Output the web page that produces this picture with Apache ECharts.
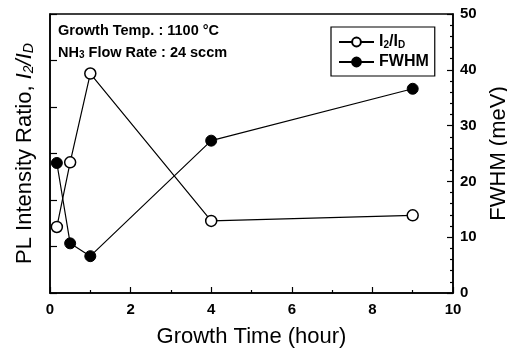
<!DOCTYPE html>
<html>
<head>
<meta charset="utf-8">
<script src="https://cdn.jsdelivr.net/npm/echarts@6/dist/echarts.min.js"></script>
<style>
html,body{margin:0;padding:0;background:#fff;}
#c{width:507px;height:353px;}
</style>
</head>
<body>
<div id="c"></div>
<script>
// Data
var growthTime = [0.17, 0.5, 1, 4, 9];
var ratioI2ID = [1.42, 2.81, 4.72, 1.55, 1.67];
var fwhm = [23.3, 8.9, 6.6, 27.3, 36.6];
var xTicks = [0, 2, 4, 6, 8, 10];
var rightTicks = [0, 10, 20, 30, 40, 50];

var FF = '"Liberation Sans", Arial, Helvetica, sans-serif';
var chart = echarts.init(document.getElementById('c'), null, {renderer: 'canvas'});

function pairs(xs, ys) { return xs.map(function (x, i) { return [x, ys[i]]; }); }

var axisLineStyle = {color: '#000', width: 1.5};

chart.setOption({
  animation: false,
  backgroundColor: '#fff',
  textStyle: {fontFamily: FF},
  grid: {left: 50, right: 54, top: 14, bottom: 60, show: true, borderColor: '#000', borderWidth: 1.5,
    backgroundColor: 'transparent', containLabel: false, outerBoundsMode: 'none'},
  xAxis: [{
    type: 'value', min: xTicks[0], max: xTicks[xTicks.length - 1], interval: 2,
    axisLine: {show: true, lineStyle: axisLineStyle},
    axisTick: {show: true, inside: true, length: 6, lineStyle: {color: '#000', width: 1.2}},
    minorTick: {show: true, splitNumber: 2, length: 3, lineStyle: {color: '#000', width: 1.2}},
    splitLine: {show: false},
    axisLabel: {color: '#000', fontSize: 15, fontWeight: 'bold', fontFamily: FF, margin: 9},
    name: 'Growth Time (hour)', nameLocation: 'middle', nameGap: 33,
    nameTextStyle: {color: '#000', fontSize: 22, fontFamily: FF}
  }],
  yAxis: [{
    type: 'value', min: 0, max: 6, interval: 1, position: 'left',
    axisLine: {show: true, lineStyle: axisLineStyle},
    axisTick: {show: true, inside: true, length: 7, lineStyle: {color: '#000', width: 1.2}},
    splitLine: {show: false},
    axisLabel: {show: false},
    name: 'PL Intensity Ratio, {i|I}{sub|2}{i|/I}{sub|D}', nameLocation: 'middle', nameGap: 14, nameRotate: 90,
    nameTextStyle: {color: '#000', fontSize: 22, fontFamily: FF,
      rich: {
        i: {fontSize: 22, fontStyle: 'italic', fontFamily: FF, color: '#000'},
        sub: {fontSize: 14, fontStyle: 'italic', fontFamily: FF, color: '#000', verticalAlign: 'bottom', padding: [8, 0, 0, 0]}
      }}
  }, {
    type: 'value', min: rightTicks[0], max: rightTicks[rightTicks.length - 1], interval: 10, position: 'right',
    axisLine: {show: true, lineStyle: axisLineStyle},
    axisTick: {show: true, inside: true, length: 6, lineStyle: {color: '#000', width: 1.2}},
    minorTick: {show: true, splitNumber: 5, length: 3, lineStyle: {color: '#000', width: 1.2}},
    splitLine: {show: false},
    axisLabel: {color: '#000', fontSize: 15, fontWeight: 'bold', fontFamily: FF, margin: 7},
    name: 'FWHM (meV)', nameLocation: 'middle', nameGap: 34, nameRotate: 90,
    nameTextStyle: {color: '#000', fontSize: 22, fontFamily: FF}
  }],
  legend: {
    show: true, orient: 'vertical', left: 331, top: 27,
    padding: [7, 6, 6, 7], itemGap: 4, itemWidth: 35, itemHeight: 11,
    borderColor: '#000', borderWidth: 1.2, backgroundColor: '#fff',
    textStyle: {color: '#000', fontSize: 16, fontWeight: 'bold', fontFamily: FF, lineHeight: 16,
      rich: {
        n: {fontSize: 16, fontWeight: 'bold', fontFamily: FF, color: '#000'},
        s: {fontSize: 10, fontWeight: 'bold', fontFamily: FF, color: '#000', verticalAlign: 'bottom', padding: [6, 0, 0, 0]}
      }},
    formatter: function (name) {
      if (name === 'I2/ID') return '{n|I}{s|2}{n|/I}{s|D}';
      return name;
    },
    data: ['I2/ID', 'FWHM']
  },
  graphic: [
    {type: 'text', left: 58, top: 23, z: 10,
      style: {text: 'Growth Temp. : 1100 °C', font: 'bold 14.5px ' + FF, fill: '#000'}},
    {type: 'text', left: 58, top: 45, z: 10,
      style: {text: '{n|NH}{s|3}{n| Flow Rate : 24 sccm}', fill: '#000',
        rich: {
          n: {font: 'bold 14.5px ' + FF, fill: '#000'},
          s: {font: 'bold 10px ' + FF, fill: '#000', verticalAlign: 'bottom', padding: [6, 0, 0, 0]}
        }}}
  ],
  series: [{
    name: 'I2/ID', type: 'line', xAxisIndex: 0, yAxisIndex: 0,
    data: pairs(growthTime, ratioI2ID),
    symbol: 'circle', symbolSize: 11,
    lineStyle: {color: '#000', width: 1.2},
    itemStyle: {color: '#fff', borderColor: '#000', borderWidth: 1.5},
    z: 3
  }, {
    name: 'FWHM', type: 'line', xAxisIndex: 0, yAxisIndex: 1,
    data: pairs(growthTime, fwhm),
    symbol: 'circle', symbolSize: 11,
    lineStyle: {color: '#000', width: 1.2},
    itemStyle: {color: '#000', borderColor: '#000', borderWidth: 1},
    z: 4
  }]
});
</script>
</body>
</html>
